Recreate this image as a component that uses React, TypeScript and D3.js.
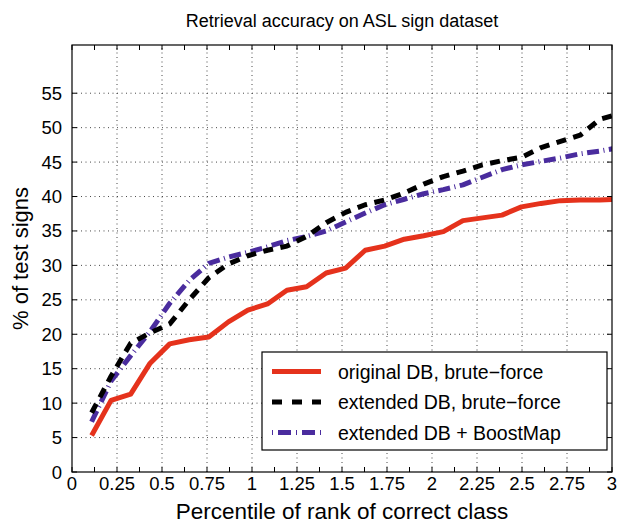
import React, { useRef, useEffect } from 'react';
import * as d3 from 'd3';

// percentile of rank of correct class (rank / 921 * 100)
const percentile = [
  0.109, 0.217, 0.326, 0.434, 0.543, 0.651, 0.76, 0.869, 0.977, 1.086,
  1.194, 1.303, 1.412, 1.52, 1.629, 1.737, 1.846, 1.954, 2.063, 2.172,
  2.28, 2.389, 2.497, 2.606, 2.714, 2.823, 2.932, 3.04,
];

const originalBrute = [
  5.3, 10.4, 11.3, 15.8, 18.6, 19.2, 19.6, 21.8, 23.5, 24.4,
  26.4, 26.9, 28.9, 29.6, 32.2, 32.8, 33.8, 34.3, 34.9, 36.5,
  36.9, 37.3, 38.5, 39.0, 39.4, 39.5, 39.5, 39.6,
];

const extendedBrute = [
  8.6, 13.9, 18.7, 20.2, 21.5, 25.0, 28.2, 30.2, 31.4, 32.2,
  32.8, 34.2, 36.2, 37.7, 38.8, 39.5, 40.5, 41.8, 42.9, 43.7,
  44.6, 45.2, 45.7, 47.1, 48.0, 48.9, 51.2, 52.0,
];

const extendedBoost = [
  7.3, 13.2, 16.9, 20.4, 24.5, 27.8, 30.3, 31.2, 31.9, 32.7,
  33.6, 34.2, 35.0, 36.3, 37.6, 38.8, 39.6, 40.4, 41.0, 41.7,
  42.8, 43.9, 44.6, 45.1, 45.6, 46.2, 46.6, 47.1,
];

const seriesNames = [
  'original DB, brute\u2212force',
  'extended DB, brute\u2212force',
  'extended DB + BoostMap',
];

const xTickValues = [0, 0.25, 0.5, 0.75, 1, 1.25, 1.5, 1.75, 2, 2.25, 2.5, 2.75, 3];
const yTickValues = [0, 5, 10, 15, 20, 25, 30, 35, 40, 45, 50, 55];

const FONT = '"Liberation Sans", Arial, Helvetica, sans-serif';

const App = () => {
  const svgRef = useRef(null);

  useEffect(() => {
    const width = 617;
    const height = 524;
    const margin = { top: 45, right: 5, bottom: 52, left: 72 };
    const x0 = margin.left;
    const x1 = width - margin.right;
    const y0 = height - margin.bottom;
    const y1 = margin.top;

    const svg = d3.select(svgRef.current)
      .attr('width', width)
      .attr('height', height)
      .style('background', '#fff')
      .style('font-family', FONT);

    svg.selectAll('*').remove();

    const xScale = d3.scaleLinear().domain([0, 3]).range([x0, x1]);
    const yScale = d3.scaleLinear().domain([0, 62]).range([y0, y1]);

    // grid
    const grid = svg.append('g')
      .attr('stroke', '#333')
      .attr('stroke-width', 0.9)
      .attr('stroke-dasharray', '1,3.5');
    xTickValues.slice(1, -1).forEach((t) => {
      grid.append('line')
        .attr('x1', xScale(t)).attr('x2', xScale(t))
        .attr('y1', y0).attr('y2', y1);
    });
    yTickValues.slice(1).forEach((t) => {
      grid.append('line')
        .attr('x1', x0).attr('x2', x1)
        .attr('y1', yScale(t)).attr('y2', yScale(t));
    });

    // inward ticks on all four sides
    const minorX = d3.range(0, 3.0001, 0.125);
    const ticks = svg.append('g').attr('stroke', '#000').attr('stroke-width', 1);
    minorX.forEach((t) => {
      ticks.append('line').attr('x1', xScale(t)).attr('x2', xScale(t)).attr('y1', y0).attr('y2', y0 - 5);
      ticks.append('line').attr('x1', xScale(t)).attr('x2', xScale(t)).attr('y1', y1).attr('y2', y1 + 5);
    });
    yTickValues.forEach((t) => {
      ticks.append('line').attr('x1', x0).attr('x2', x0 + 5).attr('y1', yScale(t)).attr('y2', yScale(t));
      ticks.append('line').attr('x1', x1).attr('x2', x1 - 5).attr('y1', yScale(t)).attr('y2', yScale(t));
    });

    // tick labels
    svg.append('g').selectAll('text')
      .data(xTickValues)
      .join('text')
      .attr('x', (d) => xScale(d))
      .attr('y', 490)
      .attr('text-anchor', 'middle')
      .attr('font-size', 18.5)
      .text((d) => String(d));

    svg.append('g').selectAll('text')
      .data(yTickValues)
      .join('text')
      .attr('x', 62)
      .attr('y', (d) => yScale(d) + 6.5)
      .attr('text-anchor', 'end')
      .attr('font-size', 18.5)
      .text((d) => String(d));

    // lines
    svg.append('clipPath').attr('id', 'plot-clip')
      .append('rect')
      .attr('x', x0).attr('y', y1)
      .attr('width', x1 - x0).attr('height', y0 - y1);

    const line = d3.line()
      .x((d) => xScale(d[0]))
      .y((d) => yScale(d[1]));

    const styles = [
      { color: '#e5321c', dash: null, legendDash: null },
      { color: '#000000', dash: '10,7.5', legendDash: '10,10' },
      { color: '#4a2c9e', dash: '12,4.5,1,4.5', legendDash: '1,5,13,5' },
    ];
    const seriesValues = [originalBrute, extendedBrute, extendedBoost];

    const lines = svg.append('g').attr('clip-path', 'url(#plot-clip)');
    [2, 1, 0].forEach((i) => {
      lines.append('path')
        .datum(percentile.map((p, j) => [p, seriesValues[i][j]]))
        .attr('fill', 'none')
        .attr('stroke', styles[i].color)
        .attr('stroke-width', 5)
        .attr('stroke-dasharray', styles[i].dash)
        .attr('stroke-linejoin', 'round')
        .attr('d', line);
    });

    // axes box
    svg.append('rect')
      .attr('x', x0).attr('y', y1)
      .attr('width', x1 - x0).attr('height', y0 - y1)
      .attr('fill', 'none')
      .attr('stroke', '#000')
      .attr('stroke-width', 1.2);

    // legend
    const legend = svg.append('g').attr('transform', 'translate(262, 352)');
    legend.append('rect')
      .attr('width', 345).attr('height', 98)
      .attr('fill', '#fff')
      .attr('stroke', '#000')
      .attr('stroke-width', 1.2);
    seriesNames.forEach((name, i) => {
      const cy = 19.5 + i * 30.5;
      legend.append('line')
        .attr('x1', 10).attr('x2', 59)
        .attr('y1', cy).attr('y2', cy)
        .attr('stroke', styles[i].color)
        .attr('stroke-width', 5)
        .attr('stroke-dasharray', styles[i].legendDash);
      legend.append('text')
        .attr('x', 76).attr('y', cy + 7)
        .attr('font-size', 19.5)
        .text(name);
    });

    // title & axis labels
    svg.append('text')
      .attr('x', (x0 + x1) / 2).attr('y', 27)
      .attr('text-anchor', 'middle')
      .attr('font-size', 18)
      .text('Retrieval accuracy on ASL sign dataset');

    svg.append('text')
      .attr('x', (x0 + x1) / 2).attr('y', 519)
      .attr('text-anchor', 'middle')
      .attr('font-size', 22.5)
      .text('Percentile of rank of correct class');

    svg.append('text')
      .attr('transform', `translate(28, ${(y0 + y1) / 2}) rotate(-90)`)
      .attr('text-anchor', 'middle')
      .attr('font-size', 22)
      .text('% of test signs');
  }, []);

  return <svg ref={svgRef} style={{ position: 'absolute', left: 0, top: 0 }}></svg>;
};

export default App;
